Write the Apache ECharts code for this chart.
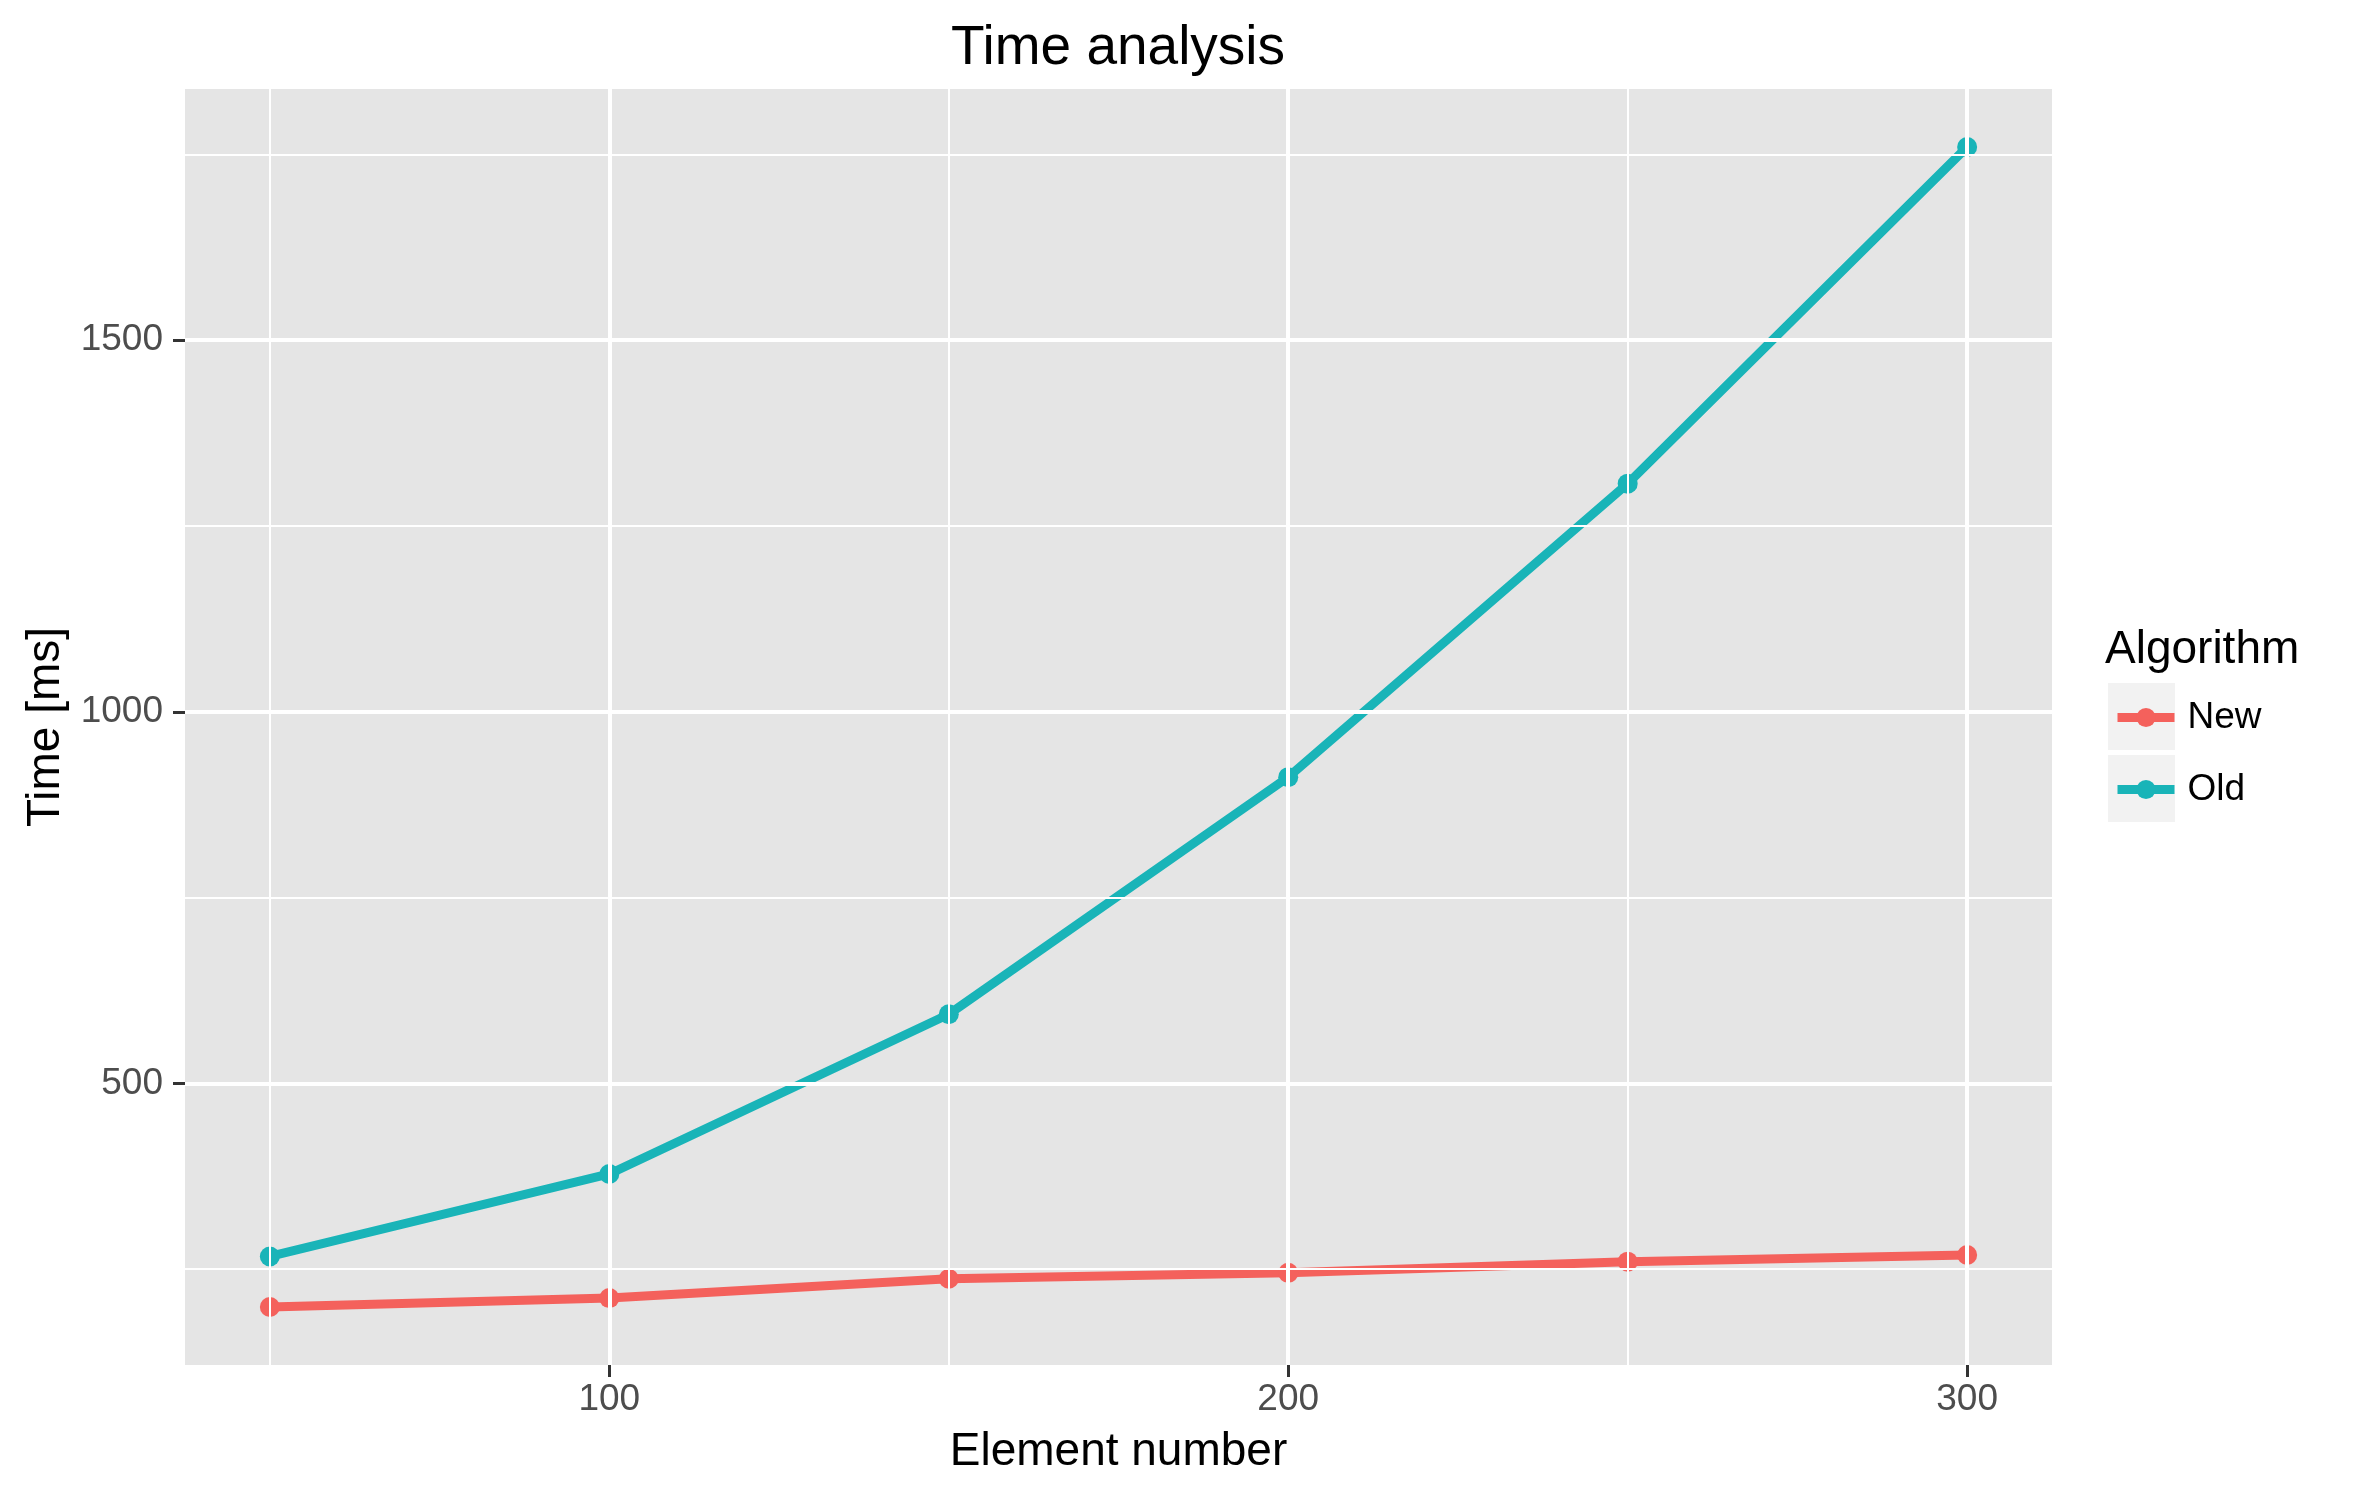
<!DOCTYPE html>
<html>
<head>
<meta charset="utf-8">
<title>Time analysis</title>
<script src="https://cdn.jsdelivr.net/npm/echarts@6/dist/echarts.min.js"></script>
<style>
  html, body { margin: 0; padding: 0; background: #fff; }
  #displayChart { width: 2375px; height: 1495px; }
</style>
</head>
<body>
<div id="displayChart"></div>
<script>
// Données
const elementNumbers = [ 50, 100, 150, 200, 250, 300 ];
const timeNew = [ 199, 211, 237, 245, 260, 269 ];
const timeOld = [ 267, 378, 593, 912, 1307, 1760 ];

// Graduations
const xMajorTicks = [ 100, 200, 300 ];
const xMinorTicks = [ 50, 150, 250 ];
const yMajorTicks = [ 500, 1000, 1500 ];
const yMinorTicks = [ 250, 750, 1250, 1750 ];

const colorNew = '#F4615C';
const colorOld = '#19B4B8';
const fontFamily = '"Liberation Sans", Arial, sans-serif';

const chartDom = document.getElementById( 'displayChart' );
const myChart = echarts.init( chartDom );

// Marge de 5% comme ggplot
function expand ( values ) {
  const lo = Math.min( ...values );
  const hi = Math.max( ...values );
  const pad = ( hi - lo ) * 0.05;
  return [ lo - pad, hi + pad ];
}

const xRange = expand( elementNumbers );
const yRange = expand( timeNew.concat( timeOld ) );

function toPairs ( ys ) {
  return elementNumbers.map( ( x, i ) => [ x, ys[ i ] ] );
}

// Lignes de la grille (majeures plus épaisses)
const gridLines = [
  ...xMajorTicks.map( ( v ) => ( { xAxis: v, lineStyle: { width: 4 } } ) ),
  ...xMinorTicks.map( ( v ) => ( { xAxis: v, lineStyle: { width: 2 } } ) ),
  ...yMajorTicks.map( ( v ) => ( { yAxis: v, lineStyle: { width: 4 } } ) ),
  ...yMinorTicks.map( ( v ) => ( { yAxis: v, lineStyle: { width: 2 } } ) )
];

const option = {
  animation: false,
  backgroundColor: '#ffffff',
  title: [
    {
      text: 'Time analysis',
      left: 1118,
      top: 21,
      textAlign: 'center',
      padding: 0,
      textStyle: { fontFamily, fontSize: 55, fontWeight: 'normal', color: '#000' }
    },
    {
      text: 'Algorithm',
      left: 2105,
      top: 627,
      padding: 0,
      textStyle: { fontFamily, fontSize: 46, fontWeight: 'normal', color: '#000' }
    }
  ],
  graphic: [
    { type: 'rect', left: 2108, top: 683, shape: { width: 67, height: 67 }, style: { fill: '#F2F2F2' }, z: 0 },
    { type: 'rect', left: 2108, top: 755, shape: { width: 67, height: 67 }, style: { fill: '#F2F2F2' }, z: 0 }
  ],
  legend: {
    data: [ 'New', 'Old' ],
    orient: 'vertical',
    left: 2113,
    top: 699,
    padding: 0,
    itemWidth: 57,
    itemHeight: 24,
    itemGap: 35,
    selectedMode: false,
    lineStyle: { width: 9 },
    textStyle: { fontFamily, fontSize: 37, color: '#000', padding: [ 0, 0, 0, 8 ] }
  },
  grid: {
    left: 185,
    top: 89,
    right: 323,
    bottom: 130,
    show: true,
    backgroundColor: '#E5E5E5',
    borderWidth: 0
  },
  xAxis: {
    type: 'value',
    min: xRange[ 0 ],
    max: xRange[ 1 ],
    name: 'Element number',
    nameLocation: 'middle',
    nameGap: 64,
    nameTextStyle: { fontFamily, fontSize: 46, color: '#000' },
    axisLine: { show: false },
    axisTick: { show: true, customValues: xMajorTicks, length: 12, lineStyle: { color: '#333', width: 3 } },
    axisLabel: { customValues: xMajorTicks, margin: 16, fontFamily, fontSize: 37, color: '#4D4D4D', formatter: ( v ) => String( v ) },
    splitLine: { show: false }
  },
  yAxis: {
    type: 'value',
    min: yRange[ 0 ],
    max: yRange[ 1 ],
    name: 'Time [ms]',
    nameLocation: 'middle',
    nameGap: 85,
    nameTextStyle: { fontFamily, fontSize: 46, color: '#000' },
    axisLine: { show: false },
    axisTick: { show: true, customValues: yMajorTicks, length: 12, lineStyle: { color: '#333', width: 3 } },
    axisLabel: { customValues: yMajorTicks, margin: 22, fontFamily, fontSize: 37, color: '#4D4D4D', formatter: ( v ) => String( v ) },
    splitLine: { show: false }
  },
  series: [
    {
      name: 'grid',
      type: 'line',
      data: [],
      z: 1,
      silent: true,
      markLine: {
        silent: true,
        symbol: [ 'none', 'none' ],
        label: { show: false },
        lineStyle: { color: '#ffffff', type: 'solid' },
        emphasis: { disabled: true },
        data: gridLines
      }
    },
    {
      name: 'New',
      type: 'line',
      data: toPairs( timeNew ),
      z: 3,
      symbol: 'circle',
      symbolSize: 20,
      color: colorNew,
      lineStyle: { width: 9, color: colorNew },
      itemStyle: { color: colorNew }
    },
    {
      name: 'Old',
      type: 'line',
      data: toPairs( timeOld ),
      z: 3,
      symbol: 'circle',
      symbolSize: 20,
      color: colorOld,
      lineStyle: { width: 9, color: colorOld },
      itemStyle: { color: colorOld }
    }
  ]
};

myChart.setOption( option );
</script>
</body>
</html>
